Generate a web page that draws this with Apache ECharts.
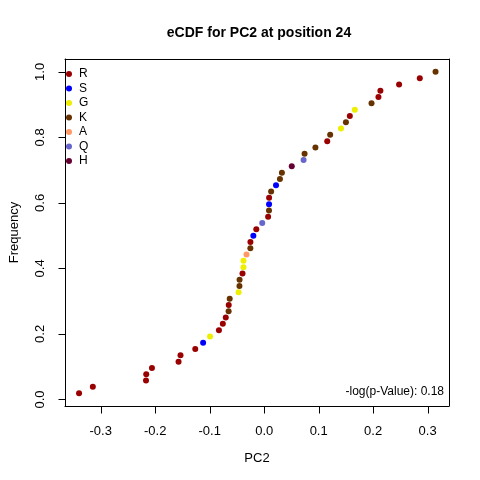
<!DOCTYPE html>
<html>
<head>
<meta charset="utf-8">
<script src="https://cdn.jsdelivr.net/npm/echarts@6/dist/echarts.min.js"></script>
<style>
  html, body { margin: 0; padding: 0; background: #fff; }
  #main { width: 480px; height: 480px; }
  #err { position: absolute; left: 2px; top: 2px; font: 10px sans-serif; color: #c00; }
</style>
</head>
<body>
<div id="main"></div>
<div id="err"></div>
<script>
// PC2 values, sorted ascending, with the residue for each point
var pc2 = [
  -0.3398, -0.3145, -0.2169, -0.2165, -0.2060, -0.1572, -0.1536, -0.1265, -0.1121, -0.0994,
  -0.0831, -0.0759, -0.0705, -0.0653, -0.0651, -0.0633, -0.0470, -0.0454, -0.0452, -0.0398,
  -0.0381, -0.0380, -0.0325, -0.0254, -0.0253, -0.0199, -0.0145, -0.0036,  0.0072,  0.0088,
   0.0089,  0.0090,  0.0127,  0.0217,  0.0289,  0.0325,  0.0506,  0.0723,  0.0741,  0.0940,
   0.1157,  0.1211,  0.1410,  0.1500,  0.1572,  0.1663,  0.1970,  0.2097,  0.2133,  0.2476,
   0.2856,  0.3145
];
var residue = [
  'R','R','R','R','R','R','R','R','S','G',
  'R','R','R','K','R','K','G','K','K','R',
  'G','G','A','K','R','S','R','Q','R','K',
  'S','R','K','S','K','K','H','Q','K','K',
  'R','K','G','K','R','G','K','R','R','R',
  'R','K'
];
var groups = ['R', 'S', 'G', 'K', 'A', 'Q', 'H'];
var groupColors = ['#990000', '#0000ff', '#eeee00', '#663300', '#ff9966', '#6666cc', '#660033'];
var xTicks = [-0.3, -0.2, -0.1, 0.0, 0.1, 0.2, 0.3];
var yTicks = [0.0, 0.2, 0.4, 0.6, 0.8, 1.0];
var pValueText = '-log(p-Value): 0.18';

var font = 'Liberation Sans, Arial, sans-serif';
var xMin = -0.3656, xMax = 0.3392, yMin = -0.0200, yMax = 1.0392;
var tickLen = 7;

try {
var chart = echarts.init(document.getElementById('main'));

// empirical CDF: i-th sorted value gets i/n
var n = pc2.length;
var series = groups.map(function (g, gi) {
  var pts = [];
  pc2.forEach(function (x, i) {
    if (residue[i] === g) pts.push([x, (i + 1) / n]);
  });
  return {
    name: g,
    type: 'scatter',
    data: pts,
    symbol: 'circle',
    symbolSize: 6,
    itemStyle: { color: groupColors[gi], opacity: 1 },
    emphasis: { disabled: true }
  };
});

// outward tick marks drawn as custom series, placed with api.coord
function tickSeries(name, pts, dx, dy) {
  return {
    name: name,
    type: 'custom',
    silent: true,
    clip: false,
    z: 10,
    data: pts,
    encode: { x: 0, y: 1 },
    renderItem: function (params, api) {
      var p = api.coord([api.value(0), api.value(1)]);
      var x = Math.round(p[0]) + 0.5, y = Math.round(p[1]) + 0.5;
      return {
        type: 'line',
        shape: { x1: x, y1: y, x2: x + dx, y2: y + dy },
        style: { stroke: '#000', lineWidth: 1 }
      };
    }
  };
}
series.push(tickSeries('xticks', xTicks.map(function (v) { return [v, yMin]; }), 0, tickLen));
series.push(tickSeries('yticks', yTicks.map(function (v) { return [xMin, v]; }), -tickLen, 0));

// plain axes used only for the top and right edges of the box
function edgeAxis(pos, min, max) {
  return {
    type: 'value', position: pos, min: min, max: max,
    axisLine: { show: true, onZero: false, lineStyle: { color: '#000', width: 1 } },
    axisTick: { show: false }, axisLabel: { show: false }, splitLine: { show: false }
  };
}

chart.setOption({
  animation: false,
  textStyle: { fontFamily: font },
  title: {
    text: 'eCDF for PC2 at position 24',
    left: 254,
    top: 21,
    textAlign: 'center',
    textStyle: { fontFamily: font, fontSize: 14, fontWeight: 'bold', color: '#000' }
  },
  legend: {
    orient: 'vertical',
    left: 61,
    top: 62,
    data: groups,
    icon: 'circle',
    itemWidth: 6,
    itemHeight: 6,
    itemGap: 0.5,
    textStyle: { fontFamily: font, fontSize: 12, color: '#000', lineHeight: 14, padding: [0, 0, 0, 2] }
  },
  grid: { left: 59, right: 31, top: 59, bottom: 74, show: false },
  xAxis: [{
    type: 'value',
    min: xMin,
    max: xMax,
    name: 'PC2',
    nameLocation: 'middle',
    nameGap: 46,
    nameTextStyle: { fontFamily: font, fontSize: 13, color: '#000' },
    axisLine: { show: true, onZero: false, lineStyle: { color: '#000', width: 1 } },
    splitLine: { show: false },
    axisTick: { show: false },
    axisLabel: {
      customValues: xTicks,
      margin: 19,
      fontSize: 13,
      color: '#000',
      formatter: function (v) { return v.toFixed(1); }
    }
  }, edgeAxis('top', xMin, xMax)],
  yAxis: [{
    type: 'value',
    min: yMin,
    max: yMax,
    name: 'Frequency',
    nameLocation: 'middle',
    nameGap: 44,
    nameTextStyle: { fontFamily: font, fontSize: 13, color: '#000' },
    axisLine: { show: true, onZero: false, lineStyle: { color: '#000', width: 1 } },
    splitLine: { show: false },
    axisTick: { show: false },
    axisLabel: {
      customValues: yTicks,
      rotate: 90,
      margin: 18,
      fontSize: 13,
      color: '#000',
      formatter: function (v) { return v.toFixed(1); }
    }
  }, edgeAxis('right', yMin, yMax)],
  graphic: [{
    type: 'text',
    right: 36,
    top: 386,
    style: { text: pValueText, fontFamily: font, fontSize: 12, fill: '#000' }
  }],
  series: series
});
} catch (e) {
  document.getElementById('err').textContent = String(e && e.message || e);
}
</script>
</body>
</html>
